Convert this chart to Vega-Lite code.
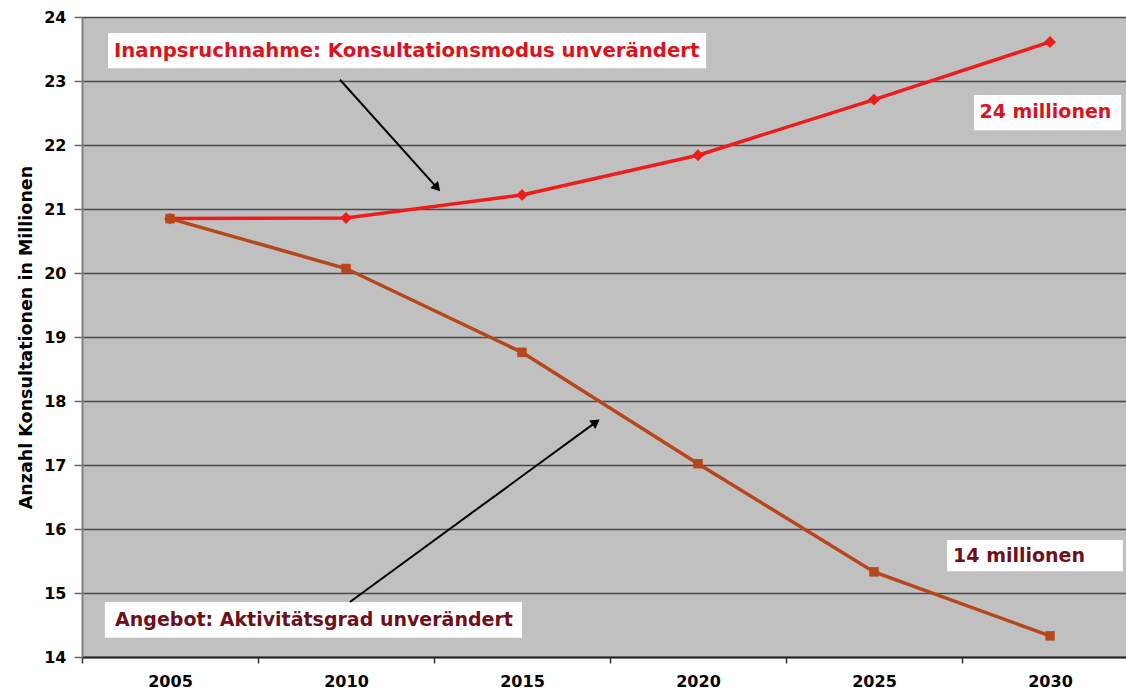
{
  "$schema": "https://vega.github.io/schema/vega-lite/v6.json",
  "autosize": {"type": "none"},
  "padding": {"left": 82, "top": 17, "right": 0, "bottom": 36},
  "width": 1056,
  "height": 640,
  "background": "white",
  "config": {
    "view": {"fill": "#C0C0C0", "stroke": null},
    "font": "DejaVu Sans"
  },
  "datasets": {
    "series": [
      {"jahr": 2005, "wert": 20.85, "serie": "Inanspruchnahme"},
      {"jahr": 2010, "wert": 20.86, "serie": "Inanspruchnahme"},
      {"jahr": 2015, "wert": 21.22, "serie": "Inanspruchnahme"},
      {"jahr": 2020, "wert": 21.84, "serie": "Inanspruchnahme"},
      {"jahr": 2025, "wert": 22.71, "serie": "Inanspruchnahme"},
      {"jahr": 2030, "wert": 23.61, "serie": "Inanspruchnahme"},
      {"jahr": 2005, "wert": 20.85, "serie": "Angebot"},
      {"jahr": 2010, "wert": 20.07, "serie": "Angebot"},
      {"jahr": 2015, "wert": 18.76, "serie": "Angebot"},
      {"jahr": 2020, "wert": 17.02, "serie": "Angebot"},
      {"jahr": 2025, "wert": 15.33, "serie": "Angebot"},
      {"jahr": 2030, "wert": 14.33, "serie": "Angebot"}
    ],
    "boxes": [
      {"x0": 2003.24, "x1": 2020.23, "y0": 23.75, "y1": 23.2, "tx": 2003.41, "ty": 23.47, "gruppe": "Inanspruchnahme", "label": "Inanpsruchnahme: Konsultationsmodus unverändert", "pos": "links"},
      {"x0": 2027.84, "x1": 2032.02, "y0": 22.78, "y1": 22.23, "tx": 2029.87, "ty": 22.51, "gruppe": "Inanspruchnahme", "label": "24 millionen", "pos": "mitte"},
      {"x0": 2027.07, "x1": 2032.07, "y0": 15.83, "y1": 15.34, "tx": 2029.12, "ty": 15.58, "gruppe": "Angebot", "label": "14 millionen", "pos": "mitte"},
      {"x0": 2003.15, "x1": 2015.0, "y0": 14.86, "y1": 14.3, "tx": 2003.44, "ty": 14.58, "gruppe": "Angebot", "label": "Angebot: Aktivitätsgrad unverändert", "pos": "links"}
    ],
    "arrows": [
      {"pfeil": "oben", "x0": 2009.83, "y0": 23.02, "x1": 2012.59, "y1": 21.33},
      {"pfeil": "unten", "x0": 2010.11, "y0": 14.86, "x1": 2017.1, "y1": 17.67}
    ]
  },
  "layer": [
    {
      "data": {"name": "boxes"},
      "mark": {"type": "rect", "fill": "white", "stroke": null},
      "encoding": {
        "x": {
          "field": "x0", "type": "quantitative",
          "scale": {"domain": [2002.5, 2032.5], "nice": false, "zero": false},
          "axis": {
            "values": [2002.5, 2007.5, 2012.5, 2017.5, 2022.5, 2027.5, 2032.5],
            "labelExpr": "datum.value < 2005 ? '' : format(datum.value - 2.5, 'd')",
            "labelOffset": -88,
            "labelFlush": false,
            "labelOverlap": false,
            "labelFont": "DejaVu Sans",
            "labelFontSize": 16,
            "labelFontWeight": "bold",
            "labelColor": "black",
            "labelPadding": 10,
            "tickSize": 6,
            "tickColor": "#333333",
            "tickWidth": 1.5,
            "domainColor": "#222222",
            "domainWidth": 2,
            "grid": false,
            "title": null
          }
        },
        "x2": {"field": "x1"},
        "y": {
          "field": "y0", "type": "quantitative",
          "scale": {"domain": [14, 24], "nice": false, "zero": false},
          "axis": {
            "values": [14, 15, 16, 17, 18, 19, 20, 21, 22, 23, 24],
            "format": "d",
            "labelFont": "DejaVu Sans",
            "labelFontSize": 16,
            "labelFontWeight": "bold",
            "labelColor": "black",
            "labelPadding": 8,
            "tickSize": 8,
            "tickColor": "#666666",
            "tickWidth": 1.5,
            "domainColor": "#808080",
            "domainWidth": 2,
            "grid": true,
            "gridColor": "#4a4a4a",
            "gridWidth": 1.5,
            "title": "Anzahl Konsultationen in Millionen",
            "titleFont": "DejaVu Sans",
            "titleFontSize": 17.5,
            "titleFontWeight": "bold",
            "titleColor": "black",
            "titlePadding": 8
          }
        },
        "y2": {"field": "y1"}
      }
    },
    {
      "data": {"name": "arrows"},
      "mark": {"type": "rule", "color": "black", "strokeWidth": 2},
      "encoding": {
        "x": {"field": "x0", "type": "quantitative"},
        "y": {"field": "y0", "type": "quantitative"},
        "x2": {"field": "x1"},
        "y2": {"field": "y1"}
      }
    },
    {
      "data": {"name": "arrows"},
      "transform": [{"filter": "datum.pfeil === 'oben'"}],
      "mark": {"type": "point", "shape": "triangle-up", "filled": true, "color": "black", "size": 110, "angle": 138, "opacity": 1},
      "encoding": {
        "x": {"field": "x1", "type": "quantitative"},
        "y": {"field": "y1", "type": "quantitative"}
      }
    },
    {
      "data": {"name": "arrows"},
      "transform": [{"filter": "datum.pfeil === 'unten'"}],
      "mark": {"type": "point", "shape": "triangle-up", "filled": true, "color": "black", "size": 110, "angle": 54, "opacity": 1},
      "encoding": {
        "x": {"field": "x1", "type": "quantitative"},
        "y": {"field": "y1", "type": "quantitative"}
      }
    },
    {
      "data": {"name": "series"},
      "mark": {"type": "line", "strokeWidth": 3.5},
      "encoding": {
        "x": {"field": "jahr", "type": "quantitative"},
        "y": {"field": "wert", "type": "quantitative"},
        "color": {
          "field": "serie", "type": "nominal",
          "scale": {"domain": ["Inanspruchnahme", "Angebot"], "range": ["#EE1C1C", "#B8461B"]},
          "legend": null
        },
        "order": {"field": "jahr"}
      }
    },
    {
      "data": {"name": "series"},
      "mark": {"type": "point", "filled": true, "opacity": 1},
      "encoding": {
        "x": {"field": "jahr", "type": "quantitative"},
        "y": {"field": "wert", "type": "quantitative"},
        "color": {"field": "serie", "type": "nominal", "legend": null},
        "shape": {
          "field": "serie", "type": "nominal",
          "scale": {"domain": ["Inanspruchnahme", "Angebot"], "range": ["diamond", "square"]},
          "legend": null
        },
        "size": {
          "field": "serie", "type": "nominal",
          "scale": {"domain": ["Inanspruchnahme", "Angebot"], "range": [140, 90]},
          "legend": null
        }
      }
    },
    {
      "data": {"name": "boxes"},
      "transform": [{"filter": "datum.pos === 'links' && datum.gruppe === 'Inanspruchnahme'"}],
      "mark": {"type": "text", "align": "left", "baseline": "middle", "font": "DejaVu Sans", "fontSize": 19.7, "fontWeight": "bold", "color": "#D9141E"},
      "encoding": {
        "x": {"field": "tx", "type": "quantitative"},
        "y": {"field": "ty", "type": "quantitative"},
        "text": {"field": "label"}
      }
    },
    {
      "data": {"name": "boxes"},
      "transform": [{"filter": "datum.pos === 'links' && datum.gruppe === 'Angebot'"}],
      "mark": {"type": "text", "align": "left", "baseline": "middle", "font": "DejaVu Sans", "fontSize": 19, "fontWeight": "bold", "color": "#6E0F1C"},
      "encoding": {
        "x": {"field": "tx", "type": "quantitative"},
        "y": {"field": "ty", "type": "quantitative"},
        "text": {"field": "label"}
      }
    },
    {
      "data": {"name": "boxes"},
      "transform": [{"filter": "datum.pos === 'mitte'"}],
      "mark": {"type": "text", "align": "center", "baseline": "middle", "font": "DejaVu Sans", "fontSize": 19, "fontWeight": "bold"},
      "encoding": {
        "x": {"field": "tx", "type": "quantitative"},
        "y": {"field": "ty", "type": "quantitative"},
        "text": {"field": "label"},
        "color": {"condition": {"test": "datum.gruppe === 'Angebot'", "value": "#6E0F1C"}, "value": "#D9141E"}
      }
    }
  ]
}
